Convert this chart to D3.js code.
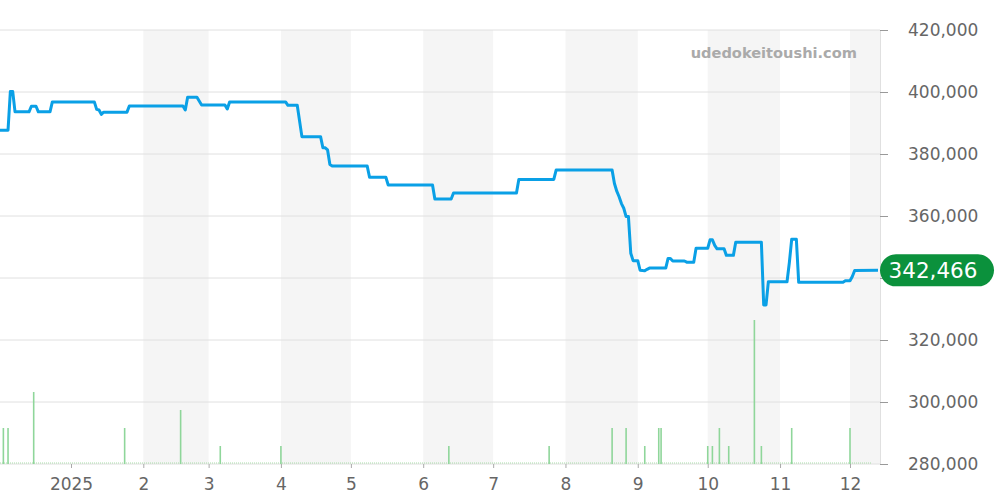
<!DOCTYPE html>
<html>
<head>
<meta charset="utf-8">
<script src="https://cdn.jsdelivr.net/npm/d3@7"></script>
<style>
  html, body { margin: 0; padding: 0; background: #fff; }
  svg { display: block; font-family: "DejaVu Sans", sans-serif; }
</style>
</head>
<body>
<svg id="chart" width="1000" height="500"></svg>
<script>
// ---- data ----
const priceDates = [
  "2024-12-01","2024-12-05","2024-12-06","2024-12-07","2024-12-08","2024-12-14","2024-12-15","2024-12-17","2024-12-18",
  "2024-12-23","2024-12-24","2025-01-11","2025-01-12","2025-01-13","2025-01-14","2025-01-15","2025-01-25","2025-01-26",
  "2025-02-18","2025-02-19","2025-02-20","2025-02-24","2025-02-26","2025-03-08","2025-03-09","2025-03-10",
  "2025-04-03","2025-04-04","2025-04-08","2025-04-10","2025-04-18","2025-04-19","2025-04-20","2025-04-21","2025-04-22","2025-04-23",
  "2025-05-08","2025-05-09","2025-05-16","2025-05-17","2025-06-05","2025-06-06","2025-06-13","2025-06-14",
  "2025-07-11","2025-07-12","2025-07-27","2025-07-28","2025-08-21","2025-08-22","2025-08-23","2025-08-24","2025-08-25",
  "2025-08-26","2025-08-27","2025-08-28","2025-08-29","2025-08-30","2025-09-01","2025-09-02","2025-09-03","2025-09-04",
  "2025-09-05","2025-09-06","2025-09-13","2025-09-14","2025-09-15","2025-09-16","2025-09-21","2025-09-22","2025-09-25",
  "2025-09-26","2025-10-01","2025-10-02","2025-10-03","2025-10-04","2025-10-05","2025-10-08","2025-10-09","2025-10-12",
  "2025-10-13","2025-10-24","2025-10-25","2025-10-26","2025-10-27","2025-11-04","2025-11-05","2025-11-06","2025-11-08",
  "2025-11-09","2025-11-28","2025-11-29","2025-12-01","2025-12-02","2025-12-03","2025-12-13"
];
const priceValues = [
  387700,387700,400200,400200,393600,393600,395400,395400,393600,
  393600,396800,396800,394400,394200,392800,393500,393500,395500,
  395500,394200,398300,398300,395800,395800,394500,396800,
  396800,395700,395700,385600,385600,382000,382000,381300,376600,376100,
  376100,372500,372500,370000,370000,365500,365500,367400,
  367400,371800,371800,374800,374800,370500,368000,366200,364000,
  362500,359800,359800,348000,345600,345600,342500,342400,342300,
  342800,343200,343200,346300,346300,345500,345500,345100,345100,
  349600,349600,352300,352300,350500,349400,349400,347300,347300,
  351500,351500,331300,331300,338800,338800,345000,352500,352500,
  338600,338600,339100,339100,340500,342400,342466
];
const volumeDates = [
  "2024-12-03","2024-12-05","2024-12-16","2025-01-24","2025-02-17","2025-03-06","2025-04-01","2025-06-12",
  "2025-07-25","2025-08-21","2025-08-27","2025-09-04","2025-09-10","2025-09-11","2025-10-01","2025-10-03",
  "2025-10-06","2025-10-10","2025-10-21","2025-10-24","2025-11-06","2025-12-01"
];
const volumeValues = [2,2,4,2,3,1,1,1,1,2,2,1,2,2,1,1,2,1,8,1,2,2];
const yTicks = [280000,300000,320000,340000,360000,380000,400000,420000];
const yTickLabels = ["280,000","300,000","320,000","","360,000","380,000","400,000","420,000"];
const monthTickDates = ["2025-01-01","2025-02-01","2025-03-01","2025-04-01","2025-05-01","2025-06-01",
  "2025-07-01","2025-08-01","2025-09-01","2025-10-01","2025-11-01","2025-12-01"];
const monthTickLabels = ["2025","2","3","4","5","6","7","8","9","10","11","12"];
const bandStarts = ["2024-11-01","2025-02-01","2025-04-01","2025-06-01","2025-08-01","2025-10-01","2025-12-01"];
const lastPriceLabel = "342,466";
const watermark = "udedokeitoushi.com";

// ---- layout ----
const W = 1000, H = 500;
const m = { left: 0, right: 120, top: 30, bottom: 36 };
const plotR = W - m.right, plotB = H - m.bottom;
const parse = d3.utcParse("%Y-%m-%d");

const x = d3.scaleUtc()
  .domain([new Date(Date.UTC(2024, 11, 1, 13, 20)), new Date(Date.UTC(2025, 11, 13, 20, 40))])
  .range([m.left, plotR]);
const y = d3.scaleLinear().domain([280000, 420000]).range([plotB, m.top]);
const yv = d3.scaleLinear().domain([0, 8]).range([plotB, plotB - 144]);

const svg = d3.select("#chart");

// clip
svg.append("defs").append("clipPath").attr("id", "clip")
  .append("rect").attr("x", m.left).attr("y", m.top).attr("width", plotR - m.left).attr("height", plotB - m.top);

// alternating month bands
const bands = svg.append("g").attr("clip-path", "url(#clip)");
bandStarts.forEach(s => {
  const d0 = parse(s);
  const d1 = d3.utcMonth.offset(d0, 1);
  bands.append("rect")
    .attr("x", x(d0)).attr("y", m.top)
    .attr("width", x(d1) - x(d0)).attr("height", plotB - m.top)
    .attr("fill", "#f5f5f5");
});

// horizontal grid
svg.append("g").selectAll("line").data(yTicks).join("line")
  .attr("x1", m.left).attr("x2", plotR)
  .attr("y1", d => y(d)).attr("y2", d => y(d))
  .attr("stroke", "#e0e0e0").attr("stroke-width", 1);

// right border
svg.append("line").attr("x1", plotR + 0.5).attr("x2", plotR + 0.5)
  .attr("y1", m.top).attr("y2", plotB).attr("stroke", "#e0e0e0");

// watermark
svg.append("text").attr("x", 857).attr("y", 57.5).attr("text-anchor", "end")
  .attr("font-size", 14.6).attr("font-weight", "bold").attr("fill", "#aaaaaa")
  .text(watermark);

// volume baseline (dotted)
svg.append("line").attr("x1", m.left).attr("x2", plotR - 8)
  .attr("y1", plotB - 1).attr("y2", plotB - 1)
  .attr("stroke", "#a8dca8").attr("stroke-width", 1).attr("stroke-dasharray", "1,1");

// volume bars
svg.append("g").selectAll("line").data(volumeDates.map((d, i) => ({ d: parse(d), v: volumeValues[i] })))
  .join("line")
  .attr("x1", d => x(d.d)).attr("x2", d => x(d.d))
  .attr("y1", yv(0)).attr("y2", d => yv(d.v))
  .attr("stroke", "#8fd69a").attr("stroke-width", 1.6);

// price line
const pts = priceDates.map((d, i) => ({ d: parse(d), v: priceValues[i] }));
svg.append("path").datum(pts)
  .attr("clip-path", "url(#clip)")
  .attr("fill", "none").attr("stroke", "#0aa0e6").attr("stroke-width", 3)
  .attr("stroke-linejoin", "round")
  .attr("d", d3.line().x(d => x(d.d)).y(d => y(d.v)));

// right axis
const yAxis = svg.append("g").attr("transform", `translate(${plotR},0)`)
  .call(d3.axisRight(y).tickValues(yTicks).tickSize(8).tickPadding(20)
    .tickFormat((d, i) => yTickLabels[i]));
yAxis.select(".domain").remove();
yAxis.selectAll(".tick line").attr("stroke", "#999");
yAxis.selectAll("text").attr("fill", "#666").attr("font-size", 17).attr("font-family", "DejaVu Sans, sans-serif");

// bottom axis
const xAxis = svg.append("g").attr("transform", `translate(0,${plotB})`)
  .call(d3.axisBottom(x).tickValues(monthTickDates.map(parse)).tickSize(4).tickPadding(10)
    .tickFormat((d, i) => monthTickLabels[i]));
xAxis.select(".domain").remove();
xAxis.selectAll(".tick line").attr("stroke", "#aaa");
xAxis.selectAll("text").attr("fill", "#666").attr("font-size", 17).attr("font-family", "DejaVu Sans, sans-serif");

// last price badge
const last = pts[pts.length - 1];
const by = y(last.v);
svg.append("rect").attr("x", plotR).attr("y", by - 16).attr("width", 114).attr("height", 32)
  .attr("rx", 16).attr("fill", "#0b913c");
svg.append("text").attr("x", plotR + 53).attr("y", by + 8).attr("text-anchor", "middle")
  .attr("font-size", 21.5).attr("fill", "#fff").text(lastPriceLabel);
</script>
</body>
</html>
